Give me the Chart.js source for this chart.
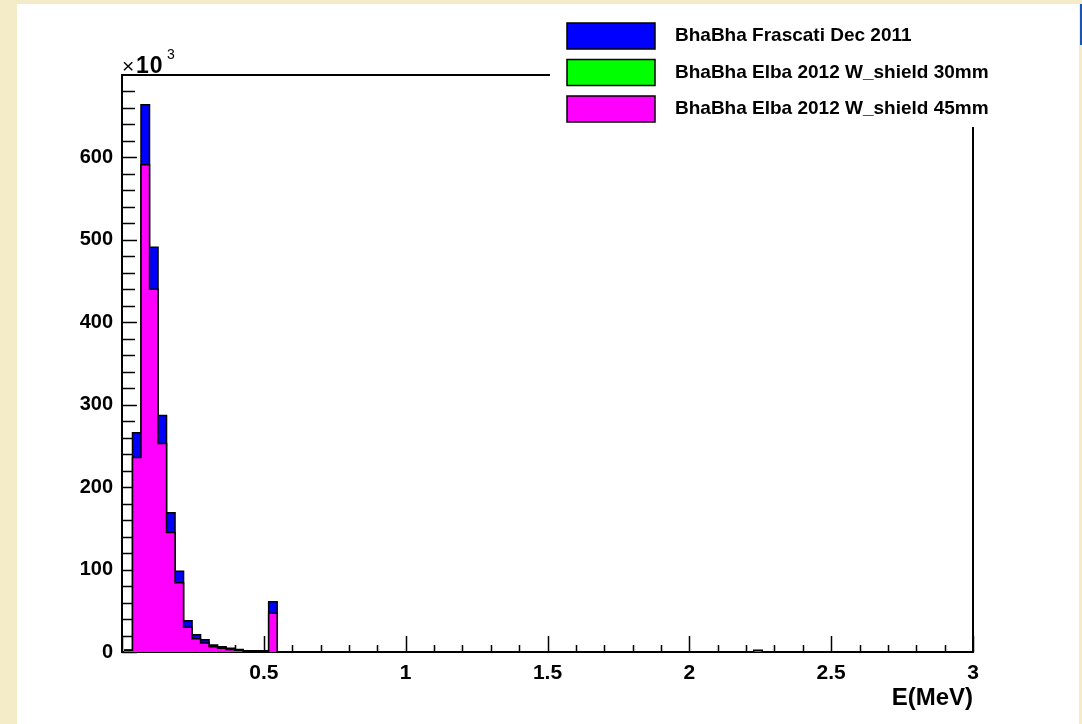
<!DOCTYPE html>
<html>
<head>
<meta charset="utf-8">
<script src="https://cdn.jsdelivr.net/npm/chart.js@4"></script>
<style>
  body { margin: 0; background: #f4ecc9; width: 1082px; height: 724px; overflow: hidden; }
  #panel { position: absolute; left: 17px; top: 4px; width: 1062px; height: 720px; background: #fff; }
  #edge { position: absolute; left: 1080px; top: 4px; width: 2px; height: 41px; background: #1c55b0; }
  #histChart { position: absolute; left: 0; top: 0; }
</style>
</head>
<body>
<div id="panel"></div>
<div id="edge"></div>
<canvas id="histChart" width="1082" height="724"></canvas>
<script>
const ctx = document.getElementById('histChart').getContext('2d');

// histogram: 100 bins of 0.03 MeV, counts in units of 10^3
// (bin edges read off the picture start slightly right of 0)
const binStart = 0.007;
const binWidth = 0.03;

const seriesLabels = [
    "BhaBha Frascati Dec 2011",
    "BhaBha Elba 2012 W_shield 30mm",
    "BhaBha Elba 2012 W_shield 45mm"
]
const seriesColors = ['#0000ff', '#00ff00', '#ff00ff'];

const frascati2011 = [
    2.5, 266, 664, 491, 287, 169, 98, 38, 21, 15,
    8.5, 6.5, 4.5, 3, 1.5, 1.5, 1.5, 61, 0, 0,
    0, 0, 0, 0, 0, 0, 0, 0, 0, 0,
    0, 0, 0, 0, 0, 0, 0, 0, 0, 0,
    0, 0, 0, 0, 0, 0, 0, 0, 0, 0,
    0, 0, 0, 0, 0, 0, 0, 0, 0, 0,
    0, 0, 0, 0, 0, 0, 0, 0, 0, 0,
    0, 0, 0, 0, 1, 0, 0, 0, 0, 0,
    0, 0, 0, 0, 0, 0, 0, 0, 0, 0,
    0, 0, 0, 0, 0, 0, 0, 0, 0, 0
]

// 30mm histogram is hidden behind the 45mm one in the picture
const elba30mm = []

const elba45mm = [
    2, 236, 591, 440, 253, 145, 84, 30, 16, 11,
    6.5, 4.5, 3, 2, 1, 1, 1, 47, 0, 0,
    0, 0, 0, 0, 0, 0, 0, 0, 0, 0,
    0, 0, 0, 0, 0, 0, 0, 0, 0, 0,
    0, 0, 0, 0, 0, 0, 0, 0, 0, 0,
    0, 0, 0, 0, 0, 0, 0, 0, 0, 0,
    0, 0, 0, 0, 0, 0, 0, 0, 0, 0,
    0, 0, 0, 0, 2, 0, 0, 0, 0, 0,
    0, 0, 0, 0, 0, 0, 0, 0, 0, 0,
    0, 0, 0, 0, 0, 0, 0, 0, 0, 0
]

const xTickValues = [0.5, 1, 1.5, 2, 2.5, 3];
const yTickValues = [0, 100, 200, 300, 400, 500, 600];

// bin contents -> points at the lower bin edges, plus the upper edge of the last bin
function toSteps(counts) {
    if (!counts.length) return [];
    const pts = counts.map((c, i) => ({x: binStart + i * binWidth, y: c}));
    pts.push({x: binStart + counts.length * binWidth, y: counts[counts.length - 1]});
    return pts;
}

const allSeries = [frascati2011, elba30mm, elba45mm];

const data = {
    datasets: allSeries.map((s, i) => ({
        label: seriesLabels[i],
        data: toSteps(s),
        stepped: 'before',
        fill: 'origin',
        backgroundColor: seriesColors[i],
        borderColor: '#000',
        borderWidth: 1.5,
        pointRadius: 0,
        order: 3 - i,
    })),
};

const FONT = "'Liberation Sans', Arial, sans-serif";

// ROOT style frame, inward ticks, legend and the x10^3 label
const rootFrame = {
    id: 'rootFrame',
    beforeDatasetsDraw(chart) {
        const {ctx, chartArea: a, scales: {x, y}} = chart;
        ctx.save();
        ctx.strokeStyle = '#000';
        ctx.lineWidth = 2;
        ctx.beginPath();
        ctx.moveTo(a.left, a.top);
        ctx.lineTo(a.right, a.top);
        ctx.lineTo(a.right, a.bottom);
        ctx.stroke();
        ctx.lineWidth = 1.5;
        ctx.beginPath();
        for (let k = 0; k <= 30; k++) {
            const px = Math.round(x.getPixelForValue(k / 10)) + 0.5;
            const len = k % 5 === 0 ? 16 : 7;
            ctx.moveTo(px, a.bottom);
            ctx.lineTo(px, a.bottom - len);
        }
        for (let v = 0; v < 700; v += 20) {
            const py = Math.round(y.getPixelForValue(v)) + 0.5;
            const len = v % 100 === 0 ? 15 : 13;
            ctx.moveTo(a.left, py);
            ctx.lineTo(a.left + len, py);
        }
        ctx.stroke();
        ctx.restore();
    },
    afterDraw(chart) {
        const {ctx, chartArea: a} = chart;
        ctx.save();
        // legend pad
        ctx.fillStyle = '#fff';
        ctx.fillRect(550, 8, 529, 119);
        ctx.font = 'bold 19px ' + FONT;
        ctx.textBaseline = 'middle';
        chart.data.datasets.forEach((ds, i) => {
            const top = 23 + i * 36.5;
            ctx.fillStyle = ds.backgroundColor;
            ctx.fillRect(567, top, 88, 26);
            ctx.strokeStyle = '#000';
            ctx.lineWidth = 1.5;
            ctx.strokeRect(567, top, 88, 26);
            ctx.fillStyle = '#000';
            ctx.fillText(ds.label, 675, top + 13);
        });
        // exponent label
        ctx.textBaseline = 'alphabetic';
        ctx.font = '21px ' + FONT;
        ctx.fillText('\u00d7', a.left, 73);
        ctx.font = 'bold 23px ' + FONT;
        ctx.letterSpacing = '1px';
        ctx.fillText('10', a.left + 14, 73);
        ctx.letterSpacing = '0px';
        ctx.font = '14px ' + FONT;
        ctx.fillText('3', a.left + 45, 59);
        ctx.restore();
    }
};

const config = {
    type: 'line',
    data: data,
    options: {
        responsive: false,
        animation: false,
        layout: {
            padding: {top: 75, right: 109, bottom: 0, left: 0}
        },
        plugins: {
            legend: false,
            tooltip: {enabled: false},
        },
        scales: {
            x: {
                type: 'linear',
                min: 0,
                max: 3,
                afterFit: (s) => { s.height = 72; },
                afterBuildTicks: (s) => { s.ticks = xTickValues.map(v => ({value: v})); },
                grid: {display: false},
                border: {display: true, color: '#000', width: 2},
                ticks: {
                    autoSkip: false,
                    maxRotation: 0,
                    padding: 1,
                    color: '#000',
                    font: {family: FONT, size: 21, weight: 'bold'},
                    callback: (v) => String(v),
                },
                title: {
                    display: true,
                    text: 'E(MeV)',
                    align: 'end',
                    color: '#000',
                    font: {family: FONT, size: 24, weight: 'bold'},
                    padding: {top: 4, bottom: 11},
                },
            },
            y: {
                min: 0,
                max: 700,
                afterFit: (s) => { s.width = 122; },
                afterBuildTicks: (s) => { s.ticks = yTickValues.map(v => ({value: v})); },
                grid: {display: false},
                border: {display: true, color: '#000', width: 2},
                ticks: {
                    padding: 1,
                    color: '#000',
                    font: {family: FONT, size: 20, weight: 'bold'},
                },
            },
        },
    },
    plugins: [rootFrame],
};

const histChart = new Chart(ctx, config);
</script>
</body>
</html>
